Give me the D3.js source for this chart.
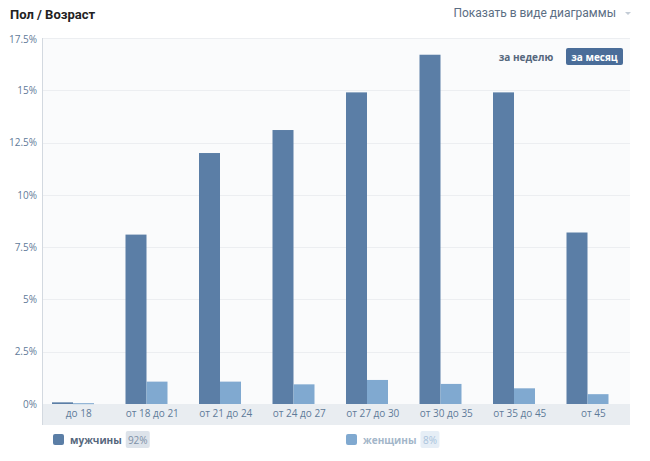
<!DOCTYPE html>
<html>
<head>
<meta charset="utf-8">
<script src="https://cdn.jsdelivr.net/npm/d3@7"></script>
<style>
	body { margin: 0; background: #fff; font-family: "Open Sans", Roboto, sans-serif; }
	svg { display: block; }
</style>
</head>
<body>
<svg id="chart" width="650" height="461"></svg>
<script>
// age groups and share of audience, %
var categories = ["до 18", "от 18 до 21", "от 21 до 24", "от 24 до 27", "от 27 до 30", "от 30 до 35", "от 35 до 45", "от 45"];
var men = [0.08, 8.1, 12.0, 13.1, 14.9, 16.7, 14.9, 8.2];
var women = [0.04, 1.07, 1.07, 0.94, 1.15, 0.96, 0.75, 0.47];
var seriesNames = ["мужчины", "женщины"];
var seriesTotals = ["92%", "8%"];
var yTicks = [0, 2.5, 5, 7.5, 10, 12.5, 15, 17.5];

var svg = d3.select("#chart");
var margin = {left: 42, right: 20, top: 38, bottom: 57};
var width = 650 - margin.left - margin.right;
var height = 461 - margin.top - margin.bottom;

var menColor = "#5b7ea6", womenColor = "#80a9d0";

//header
svg.append("text")
	.attr("x", 10).attr("y", 19)
	.style("font-family", "Roboto, sans-serif")
	.style("font-size", "13px").style("font-weight", "bold").style("fill", "#222")
	.text("Пол / Возраст");
svg.append("text")
	.attr("x", 616).attr("y", 17)
	.attr("text-anchor", "end")
	.style("font-family", "Roboto, sans-serif")
	.style("font-size", "12px").style("fill", "#5b6e83")
	.text("Показать в виде диаграммы");
svg.append("path")
	.attr("d", "M625,12 L631,12 L628,15 Z")
	.style("fill", "#c3ccd6");

var g = svg.append("g").attr("transform", "translate(" + margin.left + "," + margin.top + ")");

var y = d3.scaleLinear().domain([0, 17.5]).range([height, 0]);
var x0 = d3.scaleBand().domain(categories).range([0, width]);
var x1 = d3.scaleBand().domain(seriesNames).range([10, 52]);

//plot background
g.append("rect")
	.attr("x", 0).attr("y", 0).attr("width", width).attr("height", height)
	.style("fill", "#fafbfc");

//grid
g.selectAll(".grid").data(yTicks.slice(1)).enter().append("line")
	.attr("x1", 0).attr("x2", width)
	.attr("y1", function(d){ return Math.round(y(d)) + 0.5; })
	.attr("y2", function(d){ return Math.round(y(d)) + 0.5; })
	.style("stroke", "#eceef1");

//y axis labels
var yAxis = d3.axisLeft(y).tickValues(yTicks).tickSize(0).tickPadding(5)
	.tickFormat(function(d){ return String(d) + "%"; });
var ya = g.append("g").call(yAxis);
ya.select(".domain").remove();
ya.selectAll("text")
	.style("font-family", "'Open Sans', sans-serif")
	.style("font-size", "10px").style("fill", "#5f7b99");
ya.selectAll(".tick").filter(function(d){ return d === 17.5; }).select("text").attr("dy", "0.45em");

//x label band
g.append("rect")
	.attr("x", 0).attr("y", height).attr("width", width).attr("height", 21)
	.style("fill", "#e9edf1");

g.append("line")
	.attr("x1", 0.5).attr("x2", 0.5).attr("y1", 0).attr("y2", height + 21)
	.style("stroke", "#d3d9e0");

var xAxis = d3.axisBottom(x0).tickSize(0).tickPadding(6);
var xa = g.append("g").attr("transform", "translate(0," + height + ")").call(xAxis);
xa.select(".domain").remove();
xa.selectAll("text")
	.style("font-family", "'Open Sans', sans-serif")
	.style("font-size", "10px").style("fill", "#5f7b99");

//bars
var rows = categories.map(function(c, i){
	return {cat: c, vals: [{s: seriesNames[0], v: men[i]}, {s: seriesNames[1], v: women[i]}]};
});
var colors = d3.scaleOrdinal().domain(seriesNames).range([menColor, womenColor]);

var groups = g.selectAll(".grp").data(rows).enter().append("g")
	.attr("transform", function(d){ return "translate(" + x0(d.cat) + ",0)"; });
groups.selectAll("rect").data(function(d){ return d.vals; }).enter().append("rect")
	.attr("x", function(d){ return x1(d.s); })
	.attr("width", x1.bandwidth())
	.attr("y", function(d){ return y(d.v); })
	.attr("height", function(d){ return Math.max(1, height - y(d.v)); })
	.style("fill", function(d){ return colors(d.s); });

//period switch
svg.append("text")
	.attr("x", 526).attr("y", 61)
	.attr("text-anchor", "middle")
	.style("font-size", "10px").style("font-weight", "bold").style("fill", "#55677d")
	.text("за неделю");
svg.append("rect")
	.attr("x", 566).attr("y", 48).attr("width", 57).attr("height", 17).attr("rx", 2)
	.style("fill", "#4a6d99");
svg.append("text")
	.attr("x", 594.5).attr("y", 60.5)
	.attr("text-anchor", "middle")
	.style("font-size", "10px").style("font-weight", "bold").style("fill", "#fff")
	.text("за месяц");

//legend
var legendX = [53, 346];
var legendStyle = [
	{box: menColor, text: "#55677d", badge: "#dde3ea", badgeText: "#7d91a7"},
	{box: womenColor, text: "#a3b6c9", badge: "#e6eef6", badgeText: "#a9c3dc"}
];
seriesNames.forEach(function(name, i){
	var lg = svg.append("g").attr("transform", "translate(" + legendX[i] + ",434)");
	var st = legendStyle[i];
	lg.append("rect").attr("x", 0).attr("y", 0).attr("width", 11).attr("height", 11).attr("rx", 2)
		.style("fill", st.box);
	var t = lg.append("text").attr("x", 17).attr("y", 9.5)
		.style("font-size", "10px").style("font-weight", "bold").style("fill", st.text)
		.text(name);
	var tw = t.node().getComputedTextLength();
	lg.append("rect").attr("x", 17 + tw + 4).attr("y", -3).attr("width", i === 0 ? 24 : 19).attr("height", 17).attr("rx", 2)
		.style("fill", st.badge);
	lg.append("text").attr("x", 17 + tw + 4 + (i === 0 ? 12 : 9.5)).attr("y", 9.5)
		.attr("text-anchor", "middle")
		.style("font-size", "10px").style("fill", st.badgeText)
		.text(seriesTotals[i]);
});
</script>
</body>
</html>
